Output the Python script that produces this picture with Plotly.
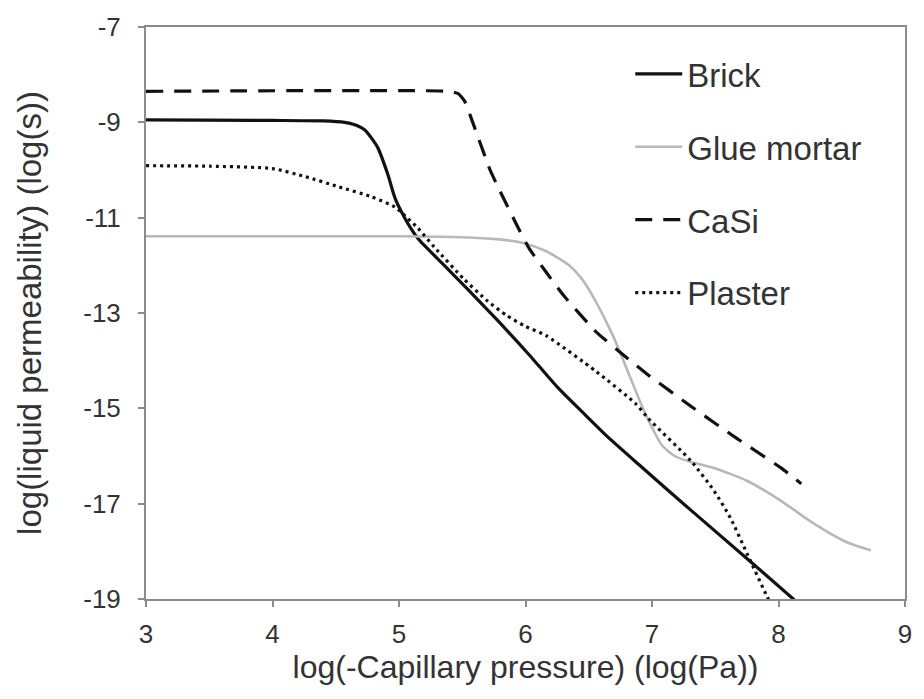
import plotly.graph_objects as go

brick_x = [3.0, 4.0, 4.4, 4.57, 4.65, 4.73, 4.83, 4.91, 4.97, 5.04, 5.10, 5.16, 5.35, 5.55, 5.77, 6.03, 6.25, 6.45, 6.65, 6.90, 7.30, 7.75, 8.13]
brick_y = [-8.95, -8.96, -8.97, -9.0, -9.05, -9.16, -9.52, -10.08, -10.6, -10.98, -11.25, -11.47, -11.98, -12.52, -13.13, -13.88, -14.55, -15.08, -15.60, -16.19, -17.12, -18.15, -19.03]

glue_x = [3.0, 5.0, 5.5, 5.77, 5.98, 6.16, 6.34, 6.45, 6.56, 6.69, 6.81, 6.92, 7.0, 7.08, 7.18, 7.30, 7.49, 7.75, 8.02, 8.28, 8.54, 8.73]
glue_y = [-11.39, -11.39, -11.41, -11.45, -11.53, -11.70, -11.99, -12.30, -12.78, -13.47, -14.23, -14.95, -15.40, -15.78, -16.00, -16.12, -16.25, -16.52, -16.94, -17.42, -17.81, -17.98]

casi_x = [3.0, 5.40, 5.47, 5.52, 5.58, 5.72, 5.80, 5.93, 6.03, 6.30, 6.56, 6.81, 6.97, 7.31, 7.67, 8.02, 8.18]
casi_y = [-8.35, -8.35, -8.40, -8.56, -8.98, -10.00, -10.45, -11.15, -11.65, -12.63, -13.40, -13.96, -14.30, -14.96, -15.63, -16.25, -16.58]

plaster_x = [3.0, 3.5, 4.0, 4.26, 4.52, 4.78, 4.97, 5.07, 5.15, 5.28, 5.51, 5.70, 5.85, 6.00, 6.16, 6.56, 6.87, 6.97, 7.31, 7.49, 7.62, 7.75, 7.91, 7.96]
plaster_y = [-9.91, -9.92, -9.97, -10.14, -10.35, -10.56, -10.78, -11.02, -11.22, -11.62, -12.28, -12.75, -13.05, -13.28, -13.47, -14.23, -14.90, -15.21, -16.11, -16.73, -17.30, -18.04, -18.95, -19.2]

x_ticks = [3, 4, 5, 6, 7, 8, 9]
y_ticks = [-7, -9, -11, -13, -15, -17, -19]

FONT = "Liberation Sans, Arial, sans-serif"
TXT = "#333333"

fig = go.Figure()
series = [
    ("Brick", brick_x, brick_y, dict(color="#111111", width=3.2, shape="spline", smoothing=0.6)),
    ("Glue mortar", glue_x, glue_y, dict(color="#b8b8b8", width=2.6, shape="spline", smoothing=0.6)),
    ("CaSi", casi_x, casi_y, dict(color="#111111", width=3.2, dash="17px,11px", shape="spline", smoothing=0.4)),
    ("Plaster", plaster_x, plaster_y, dict(color="#111111", width=3.2, dash="3px,4px", shape="spline", smoothing=0.6)),
]
for i, (name, xs, ys, ln) in enumerate(series):
    fig.add_trace(go.Scatter(x=xs, y=ys, mode="lines", name=name, line=ln,
                             legendgroup=f"g{i}", cliponaxis=True))

axis_common = dict(
    showline=True, linecolor="#8c8c8c", linewidth=2, mirror=True,
    ticks="outside", ticklen=6, tickcolor="#8c8c8c", tickwidth=1.5,
    showgrid=False, zeroline=False,
    tickfont=dict(family=FONT, size=26, color=TXT),
)
fig.update_layout(
    width=924, height=699,
    margin=dict(l=146, r=12, t=22, b=100),
    paper_bgcolor="white", plot_bgcolor="white",
    font=dict(family=FONT, color=TXT),
    xaxis=dict(range=[3, 9], tickvals=x_ticks, ticktext=[str(v) for v in x_ticks],
               ticklabelstandoff=5,
               title=dict(text="log(-Capillary pressure) (log(Pa))", font=dict(family=FONT, size=32, color=TXT), standoff=6),
               **axis_common),
    yaxis=dict(range=[-19, -7], tickvals=y_ticks, ticktext=[str(v) for v in y_ticks],
               ticklabelstandoff=12,
               title=dict(text="log(liquid permeability) (log(s))", font=dict(family=FONT, size=33, color=TXT), standoff=32),
               **axis_common),
    legend=dict(x=0.638, y=0.967, xanchor="left", yanchor="top",
                bgcolor="rgba(0,0,0,0)", font=dict(family=FONT, size=33, color=TXT),
                traceorder="grouped", tracegroupgap=27, itemwidth=47),
    showlegend=True,
)
fig.write_html("out.html")
